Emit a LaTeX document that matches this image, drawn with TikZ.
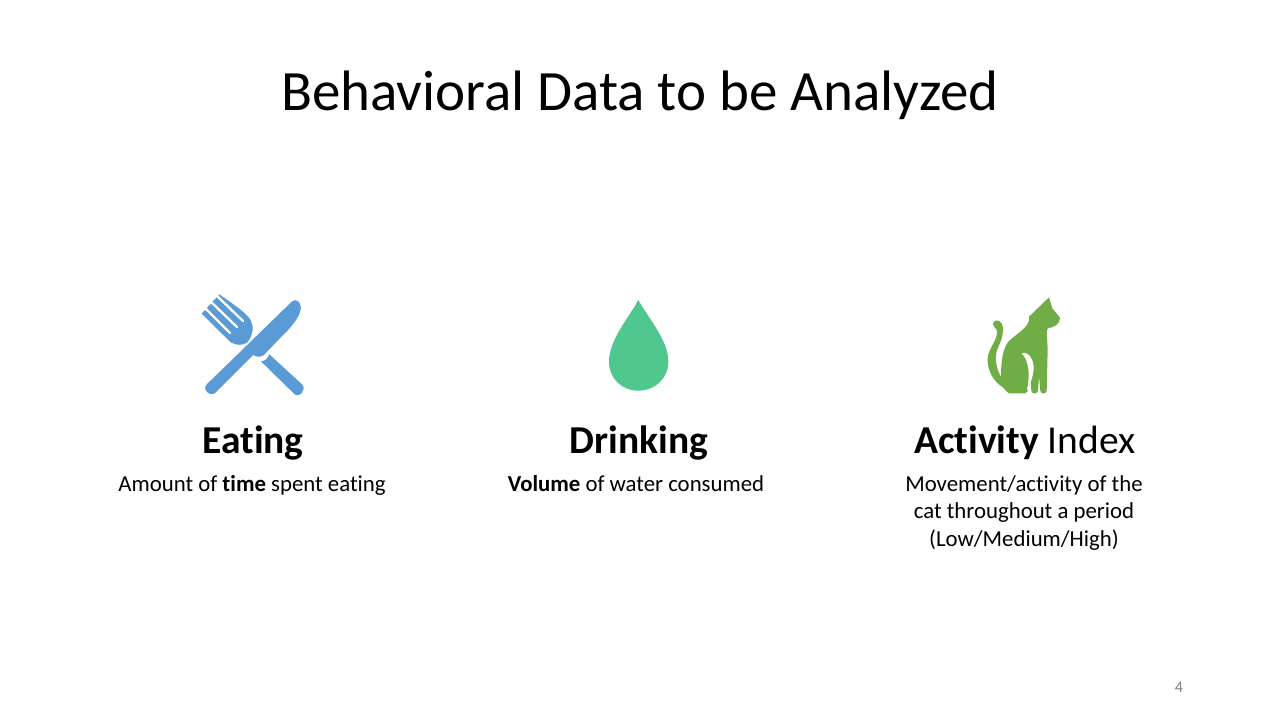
\documentclass[tikz,border=0pt]{standalone}
\usepackage{fontspec}
\setmainfont{Carlito}[Ligatures=NoCommon]
\definecolor{forkblue}{HTML}{5B9BD5}
\definecolor{dropgreen}{HTML}{4FC78F}
\definecolor{catgreen}{HTML}{70AD47}
\tikzset{
	titletext/.style={anchor=base, font=\fontsize{57}{70}\selectfont},
	headtext/.style={anchor=base, font=\fontsize{39.5}{47}\selectfont},
	subtext/.style={anchor=base, align=center, font=\fontsize{22.8}{27.5}\selectfont},
	forkslot/.style={white, line width=2.3pt, line cap=round},
}
\begin{document}
\begin{tikzpicture}[x=1pt, y=-1pt]
	\useasboundingbox[fill=white] (0, 0) rectangle (1280, 720);

	\node[titletext] (title) at (640, 110) {Behavioral Data to be Analyzed};

	% fork and knife
	\begin{scope}[shift={(190, 285)}, scale=1/3]
		\fill[forkblue] (88, 28) .. controls (130, 58) and (165, 80) .. (182, 105) .. controls (192, 125) and (190, 150) .. (172, 172) .. controls (160, 182) and (140, 182) .. (122, 172) -- (35, 86) -- cycle;
		\draw[forkslot] (44, 68) -- (120, 144);
		\draw[forkslot] (60, 48) -- (141, 126);
		\draw[forkslot] (76, 28) -- (159, 108);
		\fill[forkblue, draw=white, line width=0.8pt] (305, 48) .. controls (318, 38) and (334, 48) .. (334, 68) .. controls (332, 100) and (300, 132) .. (270, 162) -- (222, 212) .. controls (215, 218) and (200, 218) .. (190, 212) -- (78, 324) .. controls (60, 340) and (32, 314) .. (50, 296) -- cycle;
		\fill[forkblue] (238, 208) -- (336, 298) .. controls (352, 314) and (326, 342) .. (312, 326) -- (213, 229) .. controls (225, 228) and (232, 222) .. (238, 208) -- cycle;
	\end{scope}

	% water drop
	\begin{scope}[shift={(595, 290)}, scale=1/3]
		\fill[dropgreen] (130, 30) .. controls (100, 85) and (42, 150) .. (42, 215) .. controls (42, 265) and (80, 302) .. (130, 302) .. controls (180, 302) and (220, 265) .. (220, 215) .. controls (220, 150) and (160, 85) .. (130, 30) -- cycle;
	\end{scope}

	% cat
	\begin{scope}[shift={(975, 285)}, scale=1/3]
		\fill[catgreen] (222, 37) -- (232, 70) -- (255, 98) .. controls (256, 118) and (235, 128) .. (218, 130) .. controls (212, 140) and (218, 170) .. (218, 195) -- (215, 318) .. controls (212, 328) and (198, 328) .. (196, 318) -- (192, 275) -- (189, 318) .. controls (186, 328) and (171, 328) .. (169, 318) -- (167, 285) .. controls (165, 300) and (160, 305) .. (155, 308) .. controls (162, 318) and (155, 325) .. (150, 325) -- (102, 325) .. controls (95, 322) and (92, 315) .. (85, 308) .. controls (55, 290) and (36, 255) .. (38, 220) .. controls (40, 190) and (68, 165) .. (66, 140) .. controls (65, 128) and (55, 128) .. (54, 116) .. controls (58, 102) and (74, 104) .. (80, 116) .. controls (90, 135) and (80, 165) .. (68, 190) .. controls (58, 212) and (62, 250) .. (78, 275) .. controls (78, 235) and (82, 185) .. (105, 165) .. controls (135, 140) and (168, 120) .. (162, 95) -- cycle;
		\fill[white] (140, 205) .. controls (165, 196) and (182, 235) .. (174, 265) .. controls (172, 280) and (168, 292) .. (158, 306) .. controls (163, 275) and (165, 230) .. (140, 205) -- cycle;
	\end{scope}

	\node[headtext] (eatinghead) at (253, 453) {\textbf{Eating}};
	\node[headtext] (drinkinghead) at (639, 453) {\textbf{Drinking}};
	\node[headtext] (activityhead) at (1025, 453) {\textbf{Activity} Index};

	\node[subtext] (eatingsub) at (252, 491) {Amount of \textbf{time} spent eating};
	\node[subtext] (drinkingsub) at (636, 491) {\textbf{Volume} of water consumed};
	\node[subtext, anchor=north] (activitysub) at (1024, 472) {Movement/activity of the\\cat throughout a period\\(Low/Medium/High)};

	\node[anchor=base, text=gray, font=\fontsize{16}{19}\selectfont] (pagenum) at (1179, 692) {4};
\end{tikzpicture}
\end{document}
